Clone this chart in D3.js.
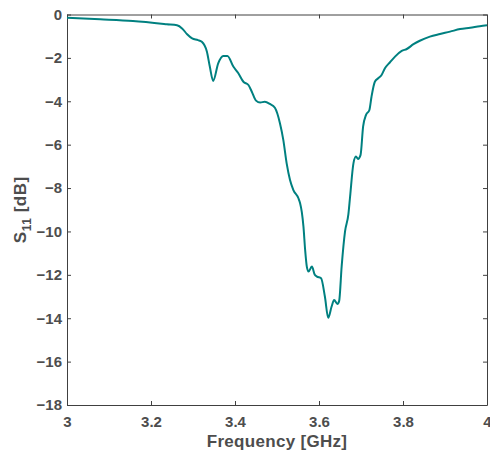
<!DOCTYPE html>
<html>
<head>
<meta charset="utf-8">
<script src="https://cdn.jsdelivr.net/npm/d3@7"></script>
<style>
  body { margin: 0; background: #fff; }
  text { font-family: "Liberation Sans", Arial, sans-serif; font-weight: bold; fill: #4d4d4d; }
</style>
</head>
<body>
<svg width="490" height="455"></svg>
<script>
// frequency in GHz, S11 in dB
const freq = [3.000, 3.079, 3.157, 3.238, 3.262, 3.274, 3.286, 3.298, 3.312, 3.321,
  3.333, 3.340, 3.348, 3.360, 3.372, 3.382, 3.396, 3.408, 3.420, 3.432,
  3.440, 3.450, 3.460, 3.471, 3.483, 3.495, 3.507, 3.515, 3.523, 3.531,
  3.539, 3.551, 3.555, 3.559, 3.563, 3.567, 3.571, 3.575, 3.583, 3.590,
  3.595, 3.605, 3.614, 3.622, 3.630, 3.636, 3.644, 3.648, 3.654, 3.662,
  3.670, 3.674, 3.682, 3.688, 3.693, 3.699, 3.705, 3.712, 3.720, 3.725,
  3.733, 3.741, 3.749, 3.757, 3.769, 3.781, 3.797, 3.809, 3.825, 3.840,
  3.864, 3.888, 3.912, 3.936, 3.960, 3.983, 4.000];
const s11 = [-0.15, -0.22, -0.30, -0.45, -0.50, -0.64, -0.91, -1.10, -1.18, -1.26,
  -1.71, -2.40, -3.06, -2.25, -1.91, -1.91, -2.40, -2.71, -3.10, -3.25,
  -3.56, -3.97, -4.06, -4.02, -4.12, -4.30, -5.01, -5.78, -6.86, -7.63,
  -8.09, -8.47, -8.70, -9.10, -9.78, -10.85, -11.62, -11.85, -11.62, -12.00,
  -12.08, -12.16, -13.00, -13.98, -13.46, -13.16, -13.34, -13.20, -11.60, -10.00,
  -9.20, -8.40, -6.86, -6.55, -6.66, -6.47, -5.17, -4.63, -4.40, -3.79,
  -3.10, -2.94, -2.79, -2.48, -2.20, -1.94, -1.68, -1.59, -1.37, -1.21,
  -1.02, -0.90, -0.79, -0.67, -0.61, -0.54, -0.50];
const xTicks = [3, 3.2, 3.4, 3.6, 3.8, 4];
const yTicks = [0, -2, -4, -6, -8, -10, -12, -14, -16, -18];

const svg = d3.select("svg");
const m = { left: 67, right: 487, top: 14.5, bottom: 405 };

const x = d3.scaleLinear().domain([3, 4]).range([m.left, m.right]);
const y = d3.scaleLinear().domain([-18, 0]).range([m.bottom, m.top]);

const axisColor = "#404040";

function styleAxis(g, labels) {
  g.attr("font-family", null);
  g.select(".domain").attr("stroke", axisColor).attr("stroke-width", 1);
  g.selectAll(".tick line").attr("stroke", axisColor);
  g.selectAll(".tick text").style("font-size", "15px").attr("fill", "#4d4d4d");
  if (!labels) g.selectAll(".tick text").remove();
}

// bottom
svg.append("g").attr("transform", `translate(0,${m.bottom})`)
  .call(d3.axisBottom(x).tickValues(xTicks).tickFormat(d3.format("")).tickSizeInner(-4).tickSizeOuter(0).tickPadding(11))
  .call(g => styleAxis(g, true));
// top
svg.append("g").attr("transform", `translate(0,${m.top})`)
  .call(d3.axisTop(x).tickValues(xTicks).tickSizeInner(-4).tickSizeOuter(0))
  .call(g => styleAxis(g, false));
// left
svg.append("g").attr("transform", `translate(${m.left},0)`)
  .call(d3.axisLeft(y).tickValues(yTicks).tickFormat(d3.format("")).tickSizeInner(-4).tickSizeOuter(0).tickPadding(5))
  .call(g => styleAxis(g, true));
// right
svg.append("g").attr("transform", `translate(${m.right},0)`)
  .call(d3.axisRight(y).tickValues(yTicks).tickSizeInner(-4).tickSizeOuter(0))
  .call(g => styleAxis(g, false));

const data = freq.map((f, i) => ({ f, v: s11[i] }));
const line = d3.line().x(d => x(d.f)).y(d => y(d.v)).curve(d3.curveMonotoneX);

svg.append("path")
  .datum(data)
  .attr("d", line)
  .attr("fill", "none")
  .attr("stroke", "#008080")
  .attr("stroke-width", 2);

// axis labels
svg.append("text")
  .attr("x", (m.left + m.right) / 2)
  .attr("y", 447)
  .attr("text-anchor", "middle")
  .style("font-size", "17px")
  .style("letter-spacing", "0.3px")
  .text("Frequency [GHz]");

const yl = svg.append("text")
  .attr("transform", `translate(26,${(m.top + m.bottom) / 2}) rotate(-90)`)
  .attr("text-anchor", "middle")
  .style("font-size", "17px")
  .style("letter-spacing", "0.5px");
yl.append("tspan").text("S");
yl.append("tspan").attr("dy", 5).style("font-size", "12px").text("11");
yl.append("tspan").attr("dy", -5).text(" [dB]");
</script>
</body>
</html>
